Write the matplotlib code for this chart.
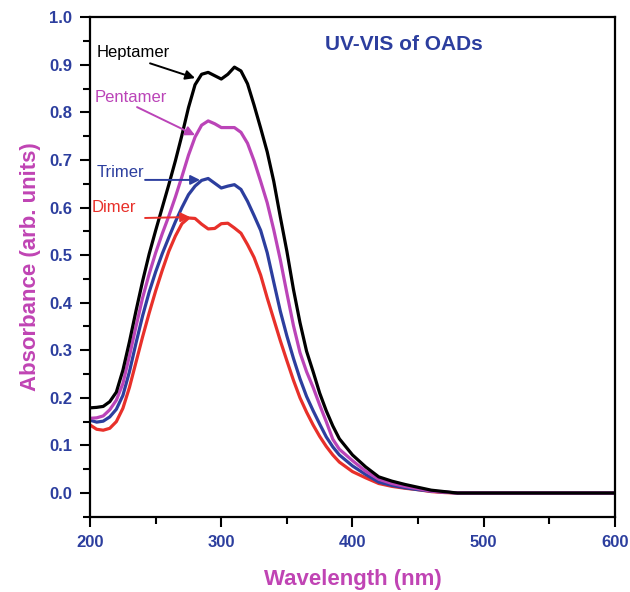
import matplotlib
matplotlib.use("Agg")
import matplotlib.pyplot as plt
from matplotlib.ticker import MultipleLocator

plt.rcParams['font.family'] = ['Liberation Sans', 'DejaVu Sans']

wavelength = [200, 205, 210, 215, 220, 225, 230, 235, 240, 245, 250, 255, 260, 265,
              270, 275, 280, 285, 290, 295, 300, 305, 310, 315, 320, 325, 330, 335,
              340, 345, 350, 355, 360, 365, 370, 375, 380, 385, 390, 400, 410, 420,
              430, 440, 450, 460, 470, 480, 500, 550, 600]

heptamer = [0.179, 0.180, 0.182, 0.192, 0.212, 0.258, 0.318, 0.383, 0.445, 0.502,
            0.552, 0.600, 0.648, 0.698, 0.752, 0.810, 0.858, 0.880, 0.884, 0.877,
            0.870, 0.880, 0.895, 0.887, 0.860, 0.815, 0.767, 0.717, 0.655, 0.580,
            0.508, 0.428, 0.358, 0.298, 0.255, 0.210, 0.173, 0.141, 0.114, 0.080,
            0.055, 0.034, 0.025, 0.018, 0.012, 0.006, 0.003, 0.000, 0.000, 0.000,
            0.000]

pentamer = [0.157, 0.158, 0.162, 0.175, 0.195, 0.230, 0.288, 0.350, 0.410, 0.460,
            0.505, 0.545, 0.582, 0.622, 0.665, 0.710, 0.748, 0.773, 0.782, 0.776,
            0.768, 0.768, 0.768, 0.758, 0.735, 0.698, 0.655, 0.610, 0.553, 0.490,
            0.420, 0.352, 0.295, 0.255, 0.222, 0.185, 0.150, 0.113, 0.092, 0.068,
            0.046, 0.029, 0.020, 0.014, 0.009, 0.004, 0.002, 0.000, 0.000, 0.000,
            0.000]

trimer = [0.153, 0.149, 0.151, 0.160, 0.176, 0.205, 0.255, 0.315, 0.372, 0.422,
          0.465, 0.503, 0.537, 0.570, 0.600, 0.627, 0.645, 0.657, 0.661, 0.651,
          0.641, 0.645, 0.648, 0.638, 0.613, 0.583, 0.552, 0.505, 0.443, 0.382,
          0.330, 0.283, 0.240, 0.203, 0.173, 0.145, 0.118, 0.097, 0.080, 0.057,
          0.039, 0.023, 0.016, 0.011, 0.007, 0.004, 0.002, 0.000, 0.000, 0.000,
          0.000]

dimer = [0.143, 0.134, 0.132, 0.136, 0.150, 0.178, 0.222, 0.275, 0.328, 0.378,
         0.425, 0.468, 0.508, 0.540, 0.566, 0.578, 0.577, 0.565, 0.555, 0.556,
         0.566, 0.567, 0.557, 0.546, 0.522, 0.495, 0.458, 0.410, 0.365, 0.320,
         0.278, 0.237, 0.200, 0.170, 0.143, 0.119, 0.098, 0.080, 0.065, 0.045,
         0.032, 0.020, 0.014, 0.010, 0.007, 0.003, 0.001, 0.000, 0.000, 0.000,
         0.000]

series_names = ['Heptamer', 'Pentamer', 'Trimer', 'Dimer']
series_values = [heptamer, pentamer, trimer, dimer]
series_colors = ['#000000', '#bb44b8', '#2c3e9e', '#e8302a']

# label text positions (left, center) and arrow tail / tip in data units
label_pos = [(205.3, 0.926), (203.8, 0.832), (204.6, 0.674), (201.5, 0.599)]
arrow_tail = [(245.7, 0.903), (235.8, 0.811), (241.9, 0.658), (241.9, 0.578)]
arrow_tip = [(280.0, 0.872), (280.0, 0.752), (283.8, 0.658), (276.2, 0.580)]

title_text = 'UV-VIS of OADs'
xlabel_text = 'Wavelength (nm)'
ylabel_text = 'Absorbance (arb. units)'
x_ticks = [200, 300, 400, 500, 600]
y_ticks = [0.0, 0.1, 0.2, 0.3, 0.4, 0.5, 0.6, 0.7, 0.8, 0.9, 1.0]

tick_color = '#2c3e9e'
label_color = '#c044b4'

fig = plt.figure(figsize=(6.30, 5.92), dpi=100)
ax = fig.add_axes([0.143, 0.127, 0.833, 0.844])

# draw in order so that black is on top
for name, vals, col in reversed(list(zip(series_names, series_values, series_colors))):
    ax.plot(wavelength, vals, color=col, lw=2.3, solid_capstyle='round',
            solid_joinstyle='round')

for name, col, lp, tail, tip in zip(series_names, series_colors, label_pos,
                                    arrow_tail, arrow_tip):
    ax.text(lp[0], lp[1], name, color=col, fontsize=12, ha='left', va='center')
    ax.annotate('', xy=tip, xytext=tail,
                arrowprops=dict(arrowstyle='-|>', color=col, lw=1.4,
                                mutation_scale=14, shrinkA=0, shrinkB=0))

ax.text(379, 0.943, title_text, color=tick_color, fontsize=15, fontweight='bold',
        ha='left', va='center')

ax.set_xlim(200, 600)
ax.set_ylim(-0.05, 1.0)
ax.set_xticks(x_ticks)
ax.set_yticks(y_ticks)
ax.set_yticklabels([f'{v:.1f}' for v in y_ticks])
ax.xaxis.set_minor_locator(MultipleLocator(50))
ax.yaxis.set_minor_locator(MultipleLocator(0.05))

ax.tick_params(axis='both', which='major', direction='out', length=7, width=1.5,
               labelsize=12, labelcolor=tick_color, top=False, right=False, pad=6)
ax.tick_params(axis='both', which='minor', direction='out', length=5, width=1.5,
               top=False, right=False)
for lab in ax.get_xticklabels() + ax.get_yticklabels():
    lab.set_fontweight('bold')

for sp in ax.spines.values():
    sp.set_linewidth(1.6)

ax.set_xlabel(xlabel_text, fontsize=16, fontweight='bold', color=label_color,
              labelpad=14)
ax.set_ylabel(ylabel_text, fontsize=16, fontweight='bold', color=label_color,
              labelpad=6)

fig.savefig('out.png', dpi=100)
